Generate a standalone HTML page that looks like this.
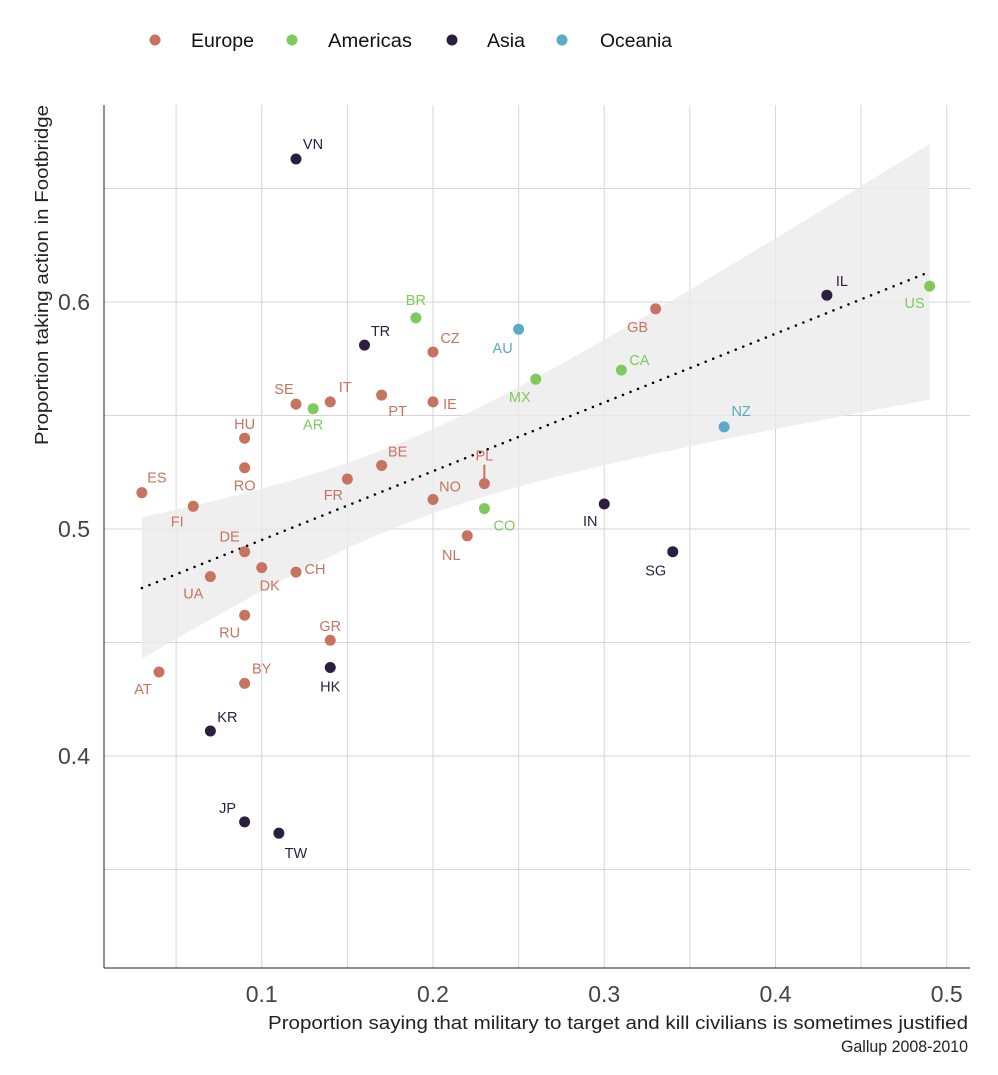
<!DOCTYPE html>
<html><head><meta charset="utf-8">
<style>
html,body{margin:0;padding:0;background:#fff;}
svg text{font-family:"Liberation Sans",sans-serif;}
</style></head>
<body>
<svg id="chart" width="998" height="1070" viewBox="0 0 998 1070" xmlns="http://www.w3.org/2000/svg">
<g id="legend"></g>
<g id="grid"></g>
<g id="band"></g>
<g id="axes"></g>
<g id="marks"></g>
<text x="48" y="275" transform="rotate(-90 48 275)" text-anchor="middle" font-size="18" fill="#222" textLength="340" lengthAdjust="spacingAndGlyphs">Proportion taking action in Footbridge</text>
<text x="968" y="1029" text-anchor="end" font-size="18" fill="#222" textLength="700" lengthAdjust="spacingAndGlyphs">Proportion saying that military to target and kill civilians is sometimes justified</text>
<text x="968" y="1052" text-anchor="end" font-size="17" fill="#222" textLength="127" lengthAdjust="spacingAndGlyphs">Gallup 2008-2010</text>
</svg>
<script>
const codes=["VN","BR","TR","CZ","AU","GB","IL","US","CA","MX","SE","AR","IT","PT","IE","NZ","HU","RO","BE","FR","PL","ES","FI","NO","CO","IN","NL","SG","DE","DK","CH","UA","RU","GR","HK","AT","BY","KR","JP","TW"];
const regions=["Asia","Americas","Asia","Europe","Oceania","Europe","Asia","Americas","Americas","Americas","Europe","Americas","Europe","Europe","Europe","Oceania","Europe","Europe","Europe","Europe","Europe","Europe","Europe","Europe","Americas","Asia","Europe","Asia","Europe","Europe","Europe","Europe","Europe","Europe","Asia","Europe","Europe","Asia","Asia","Asia"];
const xVals=[0.12,0.19,0.16,0.20,0.25,0.33,0.43,0.49,0.31,0.26,0.12,0.13,0.14,0.17,0.20,0.37,0.09,0.09,0.17,0.15,0.23,0.03,0.06,0.20,0.23,0.30,0.22,0.34,0.09,0.10,0.12,0.07,0.09,0.14,0.14,0.04,0.09,0.07,0.09,0.11];
const yVals=[0.663,0.593,0.581,0.578,0.588,0.597,0.603,0.607,0.570,0.566,0.555,0.553,0.556,0.559,0.556,0.545,0.540,0.527,0.528,0.522,0.520,0.516,0.510,0.513,0.509,0.511,0.497,0.490,0.490,0.483,0.481,0.479,0.462,0.451,0.439,0.437,0.432,0.411,0.371,0.366];
const xTicks=[0.1,0.2,0.3,0.4,0.5];
const yTicks=[0.4,0.5,0.6];
const legendLabels=["Europe","Americas","Asia","Oceania"];
const colors={Europe:"#c87360",Americas:"#7ecb5b",Asia:"#2b1e3e",Oceania:"#5aa9c8"};
const lblOff={VN:[17,-15],BR:[0,-18],TR:[16,-14],CZ:[17,-14],AU:[-16,19],GB:[-18,18],IL:[15,-14],US:[-15,17],CA:[18,-10],MX:[-16,18],SE:[-12,-15],AR:[0,16],IT:[15,-15],PT:[16,16],IE:[17,2],NZ:[17,-16],HU:[0,-14],RO:[0,18],BE:[16,-14],FR:[-14,16],PL:[0,-28],ES:[15,-15],FI:[-16,15],NO:[17,-13],CO:[20,17],IN:[-14,17],NL:[-16,19],SG:[-17,19],DE:[-15,-15],DK:[8,18],CH:[19,-3],UA:[-17,17],RU:[-15,17],GR:[0,-14],HK:[0,19],AT:[-16,17],BY:[17,-15],KR:[17,-14],JP:[-17,-14],TW:[17,20]};

const NS="http://www.w3.org/2000/svg";
const X=v=>90.5+v*1712.5;
const Y=v=>302+(0.6-v)*2270;
const L=104,R=970,T=105,B=968;
function el(tag,attrs,parent){const e=document.createElementNS(NS,tag);for(const k in attrs)e.setAttribute(k,attrs[k]);parent.appendChild(e);return e;}
const grid=document.getElementById('grid');
for(let v=0.05;v<0.52;v+=0.05){const e=el('line',{x1:X(v),x2:X(v),y1:T,y2:B,stroke:"#d6d6d6","stroke-width":1},grid);

}
for(let v=0.35;v<0.68;v+=0.05){const e=el('line',{x1:L,x2:R,y1:Y(v),y2:Y(v),stroke:"#d6d6d6","stroke-width":1},grid);

}
const axes=document.getElementById('axes');
el('line',{x1:L,x2:L,y1:T,y2:B,stroke:"#222"},axes);
el('line',{x1:L,x2:R,y1:B,y2:B,stroke:"#222"},axes);
xTicks.forEach(t=>{const e=el('text',{x:X(t),y:B+34,"text-anchor":"middle","font-size":23,fill:"#444"},axes);e.textContent=t;

});
yTicks.forEach(t=>{const e=el('text',{x:90,y:Y(t)+8,"text-anchor":"end","font-size":23,fill:"#444"},axes);e.textContent=t;

});
const n=xVals.length,mx=xVals.reduce((a,b)=>a+b)/n,my=yVals.reduce((a,b)=>a+b)/n;
let sxx=0,sxy=0;for(let i=0;i<n;i++){sxx+=(xVals[i]-mx)**2;sxy+=(xVals[i]-mx)*(yVals[i]-my);}
const b1=sxy/sxx,b0=my-b1*mx;let sse=0;for(let i=0;i<n;i++)sse+=(yVals[i]-b0-b1*xVals[i])**2;
const s=Math.sqrt(sse/(n-2)),tq=2.024;
const xmin=Math.min(...xVals),xmax=Math.max(...xVals);
let up=[],lo=[];for(let k=0;k<=40;k++){const x=xmin+(xmax-xmin)*k/40;const f=b0+b1*x;const se=s*Math.sqrt(1/n+(x-mx)**2/sxx);up.push(X(x)+","+Y(f+tq*se));lo.unshift(X(x)+","+Y(f-tq*se));}
const band=document.getElementById('band');
el('polygon',{points:up.concat(lo).join(" "),fill:"#ebebeb","fill-opacity":0.8},band);
const rl=el('line',{x1:X(xmin),y1:Y(b0+b1*xmin),x2:X(xmax),y2:Y(b0+b1*xmax),stroke:"#000","stroke-width":2.5,"stroke-dasharray":"0.1 8","stroke-linecap":"round"},band);


const marks=document.getElementById('marks');
for(let i=0;i<n;i++){
 const c=colors[regions[i]],px=X(xVals[i]),py=Y(yVals[i]);
 const d=el('circle',{cx:px,cy:py,r:5.5,fill:c},marks);
 
 
 const o=lblOff[codes[i]]||[0,-15];
 if(codes[i]==="PL"){el('line',{x1:px,y1:py-5,x2:px,y2:py-19,stroke:c,"stroke-width":2},marks);}
 const t=el('text',{x:px+o[0],y:py+o[1]+5,"text-anchor":"middle","font-size":14.5,fill:c},marks);
 t.textContent=codes[i];
 
 
}
const lg=document.getElementById('legend');
const lx=[155,292,452,562];
const tx=[191,328,487,600];
const tw=[63,84,38,72];
legendLabels.forEach((g,i)=>{
 const c=el('circle',{cx:lx[i],cy:40,r:5.5,fill:colors[g]},lg);
 
 
 const t=el('text',{x:tx[i],y:47,"font-size":19,fill:"#111",textLength:tw[i],lengthAdjust:"spacingAndGlyphs"},lg);t.textContent=g;
 
 
});
</script>
</body></html>
